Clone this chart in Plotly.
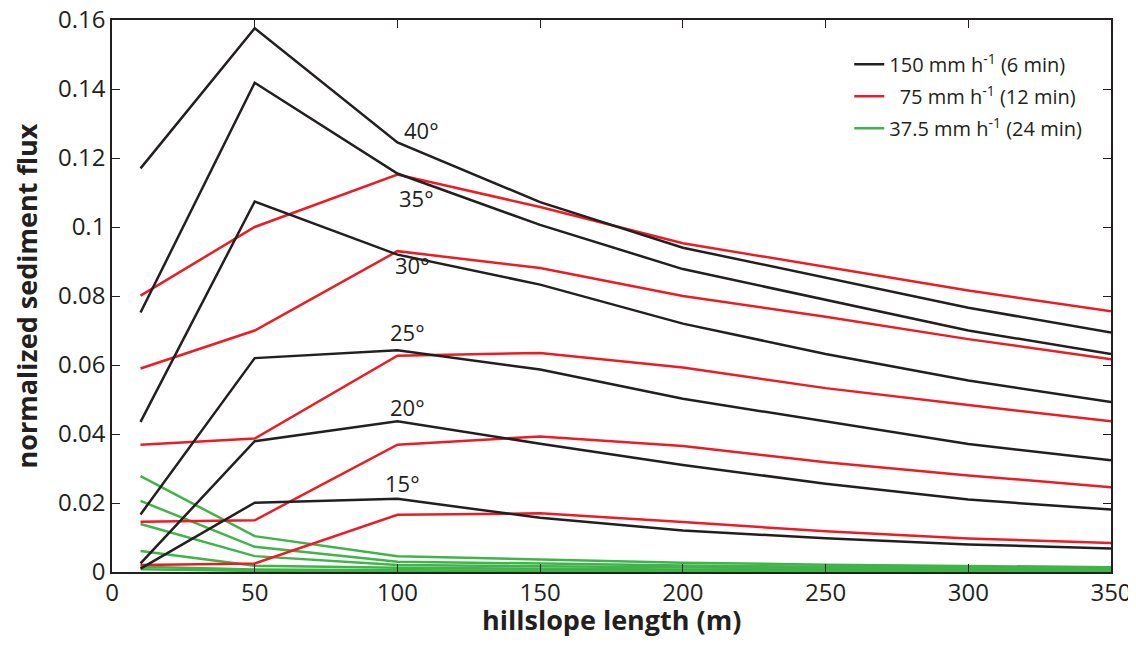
import plotly.graph_objects as go

# ---- data ----
hillslope_length = [10, 50, 100, 150, 200, 250, 300, 350]
slopes = ["40°", "35°", "30°", "25°", "20°", "15°"]

flux_150 = [  # 150 mm/h (6 min), black
    [0.117, 0.1576, 0.1245, 0.1072, 0.0940, 0.0853, 0.0766, 0.0694],
    [0.0752, 0.1418, 0.1155, 0.1006, 0.0878, 0.0790, 0.0700, 0.0632],
    [0.0435, 0.1074, 0.0920, 0.0833, 0.0720, 0.0632, 0.0555, 0.0493],
    [0.0167, 0.0620, 0.0643, 0.0587, 0.0502, 0.0436, 0.0371, 0.0324],
    [0.0025, 0.0379, 0.0437, 0.0372, 0.0310, 0.0256, 0.0210, 0.0181],
    [0.0010, 0.0201, 0.0212, 0.0157, 0.0120, 0.0098, 0.0080, 0.0068],
]
flux_75 = [  # 75 mm/h (12 min), red
    [0.0801, 0.1000, 0.1152, 0.1058, 0.0953, 0.0885, 0.0816, 0.0756],
    [0.0590, 0.0700, 0.0930, 0.0881, 0.0800, 0.0740, 0.0675, 0.0617],
    [0.0369, 0.0387, 0.0627, 0.0635, 0.0593, 0.0533, 0.0484, 0.0437],
    [0.0146, 0.0150, 0.0369, 0.0393, 0.0365, 0.0318, 0.0280, 0.0246],
    [0.0020, 0.0025, 0.0166, 0.0170, 0.0145, 0.0118, 0.0097, 0.0084],
]
flux_37 = [  # 37.5 mm/h (24 min), green
    [0.0278, 0.0104, 0.0046, 0.0037, 0.0027, 0.0021, 0.0017, 0.0014],
    [0.0206, 0.0073, 0.0030, 0.0024, 0.0019, 0.0015, 0.0012, 0.0010],
    [0.0139, 0.0046, 0.0020, 0.0016, 0.0013, 0.0010, 0.0008, 0.0007],
    [0.0061, 0.0018, 0.0012, 0.0009, 0.0007, 0.0006, 0.0005, 0.0004],
    [0.0015, 0.0007, 0.0005, 0.0004, 0.0003, 0.0003, 0.0002, 0.0002],
    [0.0008, 0.0003, 0.0002, 0.0002, 0.0001, 0.0001, 0.0001, 0.0001],
]

# label positions for slope annotations (data coordinates)
label_x = [108.3, 106.7, 105.3, 103.7, 103.7, 101.6]
label_y = [0.1280, 0.1084, 0.0890, 0.0697, 0.0478, 0.0259]

x_ticks = [0, 50, 100, 150, 200, 250, 300, 350]
y_ticks = [0, 0.02, 0.04, 0.06, 0.08, 0.1, 0.12, 0.14, 0.16]
y_ticktext = ["0", "0.02", "0.04", "0.06", "0.08", "0.1", "0.12", "0.14", "0.16"]

x_title = "hillslope length (m)"
y_title = "normalized sediment flux"

groups = [
    ("150 mm h<sup>-1</sup> (6 min)", "#231f20", flux_150, "g150"),
    ("  75 mm h<sup>-1</sup> (12 min)", "#ed1c24", flux_75, "g75"),
    ("37.5 mm h<sup>-1</sup> (24 min)", "#3fb449", flux_37, "g37"),
]

FONT = "Open Sans"

fig = go.Figure()
# draw green first (bottom), then red, then black
for name, color, series, grp in reversed(groups):
    for i, ys in enumerate(series):
        fig.add_trace(go.Scatter(
            x=hillslope_length, y=ys, mode="lines",
            line=dict(color=color, width=2.5),
            name=name, legendgroup=grp, showlegend=(i == 0),
            legendrank={"g150": 1, "g75": 2, "g37": 3}[grp],
        ))

for s, lx, ly in zip(slopes, label_x, label_y):
    fig.add_annotation(x=lx, y=ly, text=s, showarrow=False,
                       font=dict(family=FONT, size=22, color="#231f20"),
                       xanchor="center", yanchor="middle")

# x-axis title placed as an annotation for precise vertical placement
fig.add_annotation(x=0.5, y=0, xref="paper", yref="paper",
                   text="<b>" + x_title + "</b>", showarrow=False,
                   xanchor="center", yanchor="middle", yshift=-47,
                   font=dict(family=FONT, size=27, color="#231f20"))

axis_common = dict(
    showline=True, linecolor="#231f20", linewidth=1.6, mirror="ticks",
    ticks="inside", ticklen=8, tickwidth=1.4, tickcolor="#231f20",
    showgrid=False, zeroline=False, automargin=False,
    ticklabeloverflow="allow",
    tickfont=dict(family=FONT, size=24, color="#231f20"),
)

fig.update_layout(
    width=1128, height=641,
    margin=dict(l=104, r=25, t=12, b=77, autoexpand=False),
    paper_bgcolor="white", plot_bgcolor="white",
    font=dict(family=FONT, color="#231f20"),
    xaxis=dict(range=[0, 350], tickvals=x_ticks, ticklabelstandoff=-2,
               **axis_common),
    yaxis=dict(range=[0, 0.16], tickvals=y_ticks, ticktext=y_ticktext,
               ticklabelstandoff=0,
               title=dict(text="<b>" + y_title + "</b>", standoff=20,
                          font=dict(family=FONT, size=27, color="#231f20")),
               **axis_common),
    legend=dict(x=0.738, y=0.955, xanchor="left", yanchor="top",
                font=dict(family=FONT, size=20, color="#231f20"),
                bgcolor="rgba(0,0,0,0)", borderwidth=0,
                traceorder="grouped", tracegroupgap=3),
    showlegend=True,
)

fig.write_html("out.html")
